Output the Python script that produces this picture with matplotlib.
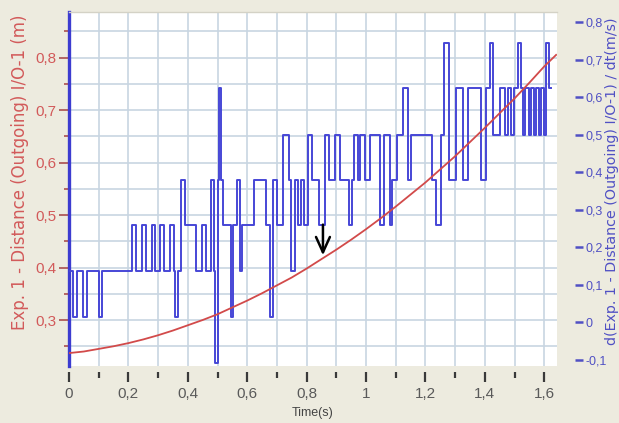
import matplotlib
matplotlib.use('Agg')
import matplotlib.pyplot as plt
from matplotlib.ticker import MultipleLocator, FixedLocator, FixedFormatter

plt.rcParams['font.family'] = ['Liberation Sans', 'DejaVu Sans']

# ---------------- data ----------------
# Distance (left axis, m) sampled every 0.05 s
time_red = [0.00, 0.05, 0.10, 0.15, 0.20, 0.25, 0.30, 0.35, 0.40, 0.45,
            0.50, 0.55, 0.60, 0.65, 0.70, 0.75, 0.80, 0.85, 0.90, 0.95,
            1.00, 1.05, 1.10, 1.15, 1.20, 1.25, 1.30, 1.35, 1.40, 1.45,
            1.50, 1.55, 1.60, 1.64]
distance = [0.237, 0.240, 0.245, 0.250, 0.256, 0.263, 0.271, 0.280, 0.290, 0.300,
            0.311, 0.324, 0.337, 0.351, 0.366, 0.381, 0.398, 0.416, 0.434, 0.453,
            0.473, 0.494, 0.516, 0.539, 0.562, 0.587, 0.612, 0.639, 0.666, 0.694,
            0.722, 0.752, 0.783, 0.805]

# Velocity d/dt (right axis, m/s), step changes
time_blue = [0.000, 0.012, 0.028, 0.046, 0.059, 0.100, 0.111, 0.213, 0.225, 0.246,
             0.258, 0.278, 0.290, 0.308, 0.320, 0.341, 0.353, 0.358, 0.368, 0.377,
             0.389, 0.427, 0.448, 0.462, 0.478, 0.488, 0.490, 0.501, 0.505, 0.513,
             0.518, 0.544, 0.552, 0.566, 0.575, 0.584, 0.622, 0.663, 0.676, 0.688,
             0.700, 0.722, 0.740, 0.748, 0.760, 0.772, 0.781, 0.792, 0.806, 0.819,
             0.842, 0.862, 0.876, 0.895, 0.911, 0.944, 0.954, 0.958, 0.972, 0.981,
             0.995, 1.015, 1.046, 1.060, 1.080, 1.089, 1.105, 1.126, 1.140, 1.150,
             1.222, 1.235, 1.252, 1.262, 1.278, 1.304, 1.326, 1.342, 1.386, 1.404,
             1.416, 1.428, 1.450, 1.468, 1.478, 1.488, 1.498, 1.512, 1.522, 1.528,
             1.536, 1.549, 1.556, 1.566, 1.573, 1.583, 1.590, 1.598, 1.606, 1.617,
             1.623]
velocity = [0.136, 0.013, 0.136, 0.013, 0.136, 0.013, 0.136, 0.259, 0.136, 0.259,
            0.136, 0.259, 0.136, 0.259, 0.136, 0.259, 0.136, 0.013, 0.136, 0.380,
            0.259, 0.136, 0.259, 0.136, 0.380, 0.136, -0.110, 0.380, 0.625, 0.380,
            0.259, 0.013, 0.259, 0.380, 0.136, 0.259, 0.380, 0.259, 0.013, 0.380,
            0.259, 0.500, 0.380, 0.136, 0.380, 0.259, 0.380, 0.259, 0.500, 0.380,
            0.259, 0.500, 0.380, 0.500, 0.380, 0.259, 0.380, 0.500, 0.380, 0.500,
            0.380, 0.500, 0.259, 0.500, 0.259, 0.380, 0.500, 0.625, 0.380, 0.500,
            0.380, 0.259, 0.500, 0.745, 0.380, 0.625, 0.380, 0.625, 0.380, 0.625,
            0.745, 0.500, 0.625, 0.500, 0.625, 0.500, 0.625, 0.745, 0.625, 0.500,
            0.625, 0.500, 0.625, 0.500, 0.625, 0.500, 0.625, 0.500, 0.745, 0.625,
            0.625]

x_ticks = [0, 0.2, 0.4, 0.6, 0.8, 1.0, 1.2, 1.4, 1.6]
x_tick_labels = ['0', '0,2', '0,4', '0,6', '0,8', '1', '1,2', '1,4', '1,6']
left_ticks = [0.3, 0.4, 0.5, 0.6, 0.7, 0.8]
left_tick_labels = ['0,3', '0,4', '0,5', '0,6', '0,7', '0,8']
right_ticks = [-0.1, 0.0, 0.1, 0.2, 0.3, 0.4, 0.5, 0.6, 0.7, 0.8]
right_tick_labels = ['-0,1', '0', '0,1', '0,2', '0,3', '0,4', '0,5', '0,6', '0,7', '0,8']

# ---------------- style ----------------
BG = '#EDEBDF'
BLUE = '#4646d6'
BLUE_TXT = '#5050c4'
RED = '#d24a4a'
RED_TXT = '#d25a5a'
GRID = '#c8d5e2'

fig = plt.figure(figsize=(6.19, 4.23), dpi=100, facecolor=BG)
ax1 = fig.add_axes([69 / 619, 57 / 423, 488 / 619, 354 / 423])
ax1.set_facecolor('white')
ax2 = ax1.twinx()

ax2.plot(time_blue, velocity, drawstyle='steps-post', color=BLUE, lw=1.4, zorder=2)
ax2.plot(time_red, distance, transform=ax1.transData, color=RED, lw=1.3, zorder=3)
ax2.annotate('', xy=(0.855, 0.418), xytext=(0.855, 0.487),
             xycoords=ax1.transData, textcoords=ax1.transData,
             arrowprops=dict(arrowstyle='->,head_length=0.55,head_width=0.25',
                             color='black', lw=1.8, mutation_scale=20),
             zorder=5)

ax1.set_xlim(0, 1.643)
ax1.set_ylim(0.2124, 0.8867)
ax2.set_ylim(-0.1173, 0.8267)

# grid
ax1.xaxis.set_major_locator(FixedLocator(x_ticks))
ax1.xaxis.set_major_formatter(FixedFormatter(x_tick_labels))
ax1.xaxis.set_minor_locator(MultipleLocator(0.1))
ax1.yaxis.set_major_locator(FixedLocator(left_ticks))
ax1.yaxis.set_major_formatter(FixedFormatter(left_tick_labels))
ax1.yaxis.set_minor_locator(MultipleLocator(0.05))
ax1.grid(which='both', color=GRID, lw=1.2)
ax1.set_axisbelow(True)

ax2.yaxis.set_major_locator(FixedLocator(right_ticks))
ax2.yaxis.set_major_formatter(FixedFormatter(right_tick_labels))

# spines
for s in ['right', 'bottom']:
    ax1.spines[s].set_visible(False)
ax1.spines['bottom'].set_position(('outward', 4))
ax1.spines['left'].set_color('#3c3cd0')
ax1.spines['left'].set_linewidth(2.4)
ax1.spines['top'].set_color('#d4d2c6')
ax1.spines['top'].set_linewidth(1.0)
for s in ['left', 'top', 'bottom', 'right']:
    ax2.spines[s].set_visible(False)
ax2.spines['right'].set_position(('outward', 13))

# ticks
ax1.tick_params(axis='x', which='major', direction='out', length=7, width=1.6,
                color='#3a3a3a', labelsize=11, labelcolor='#5a5a5a', pad=4)
ax1.tick_params(axis='x', which='minor', direction='out', length=4, width=1.6,
                color='#3a3a3a')
ax1.tick_params(axis='y', which='major', direction='out', length=7, width=1.3,
                color='#b05a5a', labelsize=11, labelcolor=RED_TXT, pad=2)
ax1.tick_params(axis='y', which='minor', direction='out', length=3.5, width=1.3,
                color='#b05a5a')
ax2.tick_params(axis='y', which='major', direction='out', length=6, width=1.8,
                color=BLUE_TXT, labelsize=9, labelcolor=BLUE_TXT, pad=1.5)

# labels
ax1.set_xlabel('Time(s)', fontsize=9, color='#444444', va='center')
ax1.xaxis.set_label_coords(0.5, -0.133)
ax1.set_ylabel('Exp. 1 - Distance (Outgoing) I/O-1 (m)', family='DejaVu Sans',
               fontsize=12, color=RED_TXT, va='center')
ax1.yaxis.set_label_coords(-0.100, 0.548)
ax2.set_ylabel('d(Exp. 1 - Distance (Outgoing) I/O-1) / dt(m/s)', family='DejaVu Sans',
               fontsize=10.3, color=BLUE_TXT, va='center')
ax2.yaxis.set_label_coords(1.1125, 0.521)

fig.savefig('out.png', dpi=100, facecolor=BG)
